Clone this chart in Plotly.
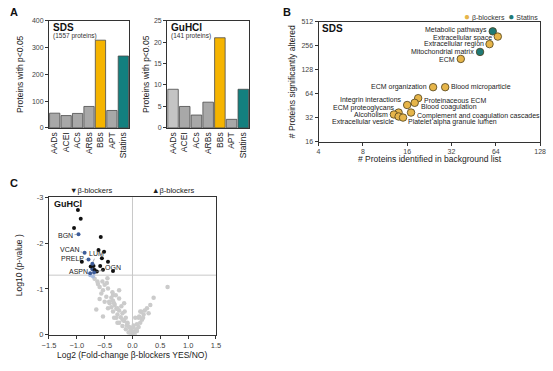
import plotly.graph_objects as go
import math

W, H = 553, 371
FONT = "Liberation Sans, Arial, sans-serif"

def fx(p):
    return p / W

def fy(p):
    return 1 - p / H

# ---------------- DATA ----------------
drug_classes = ["AADs", "ACEI", "ACs", "ARBs", "BBs", "APT", "Statins"]
sds_counts = [55, 46, 54, 80, 327, 65, 268]
guhcl_counts = [9, 5, 3, 6, 21, 2, 9]

terms = ["Metabolic pathways", "Extracellular space", "Extracellular region",
         "Mitochondrial matrix", "ECM", "ECM organization", "Blood microparticle",
         "Proteinaceous ECM", "Blood coagulation", "Integrin interactions",
         "ECM proteoglycans", "Alcoholism", "Complement and coagulation cascades",
         "Extracellular vesicle", "Platelet alpha granule lumen"]
term_background = [61, 66, 58, 50, 37, 24, 29, 19, 18, 16, 14, 13, 17, 14, 15]
term_significant = [386, 332, 267, 213, 174, 77, 77, 56, 49, 46, 37, 35, 37, 33, 32]
term_group = ["Statins", "β-blockers", "β-blockers", "Statins", "β-blockers",
              "β-blockers", "β-blockers", "β-blockers", "β-blockers", "β-blockers",
              "β-blockers", "β-blockers", "β-blockers", "β-blockers", "β-blockers"]

# Volcano plot (GuHCl)
sig_black_fc = [-0.98, -0.93, -1.05, -0.57, -0.61, -0.51, -0.55, -0.91, -0.44,
                -0.70, -0.58, -0.68, -0.53, -0.35, -0.75, -0.64]
sig_black_logp = [-2.72, -2.53, -2.33, -2.13, -1.85, -1.81, -1.67, -1.59, -1.59,
                  -1.50, -1.50, -1.41, -1.42, -1.39, -1.49, -1.38]
ecm_genes = ["BGN", "VCAN", "PRELP", "LUM", "ASPN", "OGN"]
ecm_fc = [-0.97, -0.86, -0.79, -0.72, -0.76, -0.69]
ecm_logp = [-2.19, -1.79, -1.64, -1.55, -1.34, -1.36]
ecm_extra_fc = [-0.72, -0.71, -0.76]
ecm_extra_logp = [-1.43, -1.27, -1.30]
ns_fc = [-0.68, -0.63, -0.54, -0.50, -0.59, -0.44, -0.53, -0.56, -0.47, -0.38,
         -0.24, -0.35, -0.50, -0.41, -0.32, -0.38, -0.29, -0.24, -0.65, -0.35,
         -0.18, -0.27, -0.53, -0.21, -0.12, -0.15, -0.24, -0.09, -0.18, -0.06,
         -0.12, -0.03, -0.07, 0.00, 0.03, 0.07, 0.11, 0.08, 0.14, 0.17,
         0.11, 0.20, 0.16, 0.29, 0.26, 0.32, 0.38, 0.63, -0.03, 0.04,
         -0.29, -0.35, -0.44, -0.45, -0.36, -0.30, -0.15, 0.05, -0.10, -0.04,
         0.02, -0.20, -0.42, 0.12, 0.22, -0.62, -0.33, -0.27, -0.33, -0.27,
         0.14, 0.19, -0.09, -0.18, -0.14, 0.01, 0.08, -0.24, -0.59, -0.46]
ns_logp = [-1.22, -1.16, -1.16, -1.09, -1.04, -1.01, -0.97, -0.90, -0.83, -0.81,
           -0.79, -0.74, -0.72, -0.69, -0.65, -0.60, -0.57, -0.53, -0.55, -0.51,
           -0.47, -0.44, -0.40, -0.38, -0.37, -0.30, -0.26, -0.24, -0.19, -0.17,
           -0.12, -0.10, -0.05, -0.03, -0.07, -0.12, -0.17, -0.23, -0.26, -0.33,
           -0.37, -0.44, -0.50, -0.47, -0.58, -0.65, -0.81, -1.04, 0.00, -0.01,
           -0.37, -0.87, -0.58, -1.23, -0.93, -0.86, -0.69, -0.37, -0.21, -0.15,
           -0.20, -0.62, -0.72, -0.40, -0.53, -1.11, -0.69, -0.58, -0.37, -0.26,
           -0.51, -0.37, -0.26, -0.33, -0.51, -0.16, -0.08, -0.97, -0.78, -1.13]
p_threshold = -1.3

# ---------------- STYLES ----------------
GRAY = "#a8a8a8"
BB_BAR = "#f5b400"
ST_BAR = "#13807f"
BB_DOT = "#e6b54a"
ST_DOT = "#1f7a76"
bar_colors_sds = [GRAY, GRAY, GRAY, GRAY, BB_BAR, GRAY, ST_BAR]
bar_colors_gu = ["#c4c4c4", GRAY, GRAY, GRAY, BB_BAR, GRAY, ST_BAR]

fig = go.Figure()

fig.add_trace(go.Bar(x=drug_classes, y=sds_counts, marker=dict(color=bar_colors_sds, line=dict(color="#4a4a4a", width=0.8)),
                     xaxis="x", yaxis="y", showlegend=False))
fig.add_trace(go.Bar(x=drug_classes, y=guhcl_counts, marker=dict(color=bar_colors_gu, line=dict(color="#4a4a4a", width=0.8)),
                     xaxis="x2", yaxis="y2", showlegend=False))

grp_color = {"β-blockers": BB_DOT, "Statins": ST_DOT}
fig.add_trace(go.Scatter(x=term_background, y=term_significant, mode="markers",
                         marker=dict(size=7.5, color=[grp_color[g] for g in term_group],
                                     line=dict(color="#4e401a", width=0.8)),
                         xaxis="x3", yaxis="y3", showlegend=False))

fig.add_trace(go.Scatter(x=ns_fc, y=ns_logp, mode="markers", marker=dict(size=4.5, color="#cbcbcb"),
                         xaxis="x4", yaxis="y4", showlegend=False))
fig.add_trace(go.Scatter(x=ecm_extra_fc, y=ecm_extra_logp, mode="markers",
                         marker=dict(size=4, color=["#3d5c99", "#a9bde0", "#a9bde0"]),
                         xaxis="x4", yaxis="y4", showlegend=False))
fig.add_trace(go.Scatter(x=sig_black_fc, y=sig_black_logp, mode="markers", marker=dict(size=4, color="#111111"),
                         xaxis="x4", yaxis="y4", showlegend=False))
fig.add_trace(go.Scatter(x=ecm_fc, y=ecm_logp, mode="markers", marker=dict(size=4, color="#3d5c99"),
                         xaxis="x4", yaxis="y4", showlegend=False))

# ---------------- LAYOUT ----------------
tickf = dict(family=FONT, size=7, color="#444")
common_line = dict(showline=True, linecolor="#333", linewidth=1, mirror=True, showgrid=False, zeroline=False)
catf = dict(family=FONT, size=8.5, color="#222")

layout = dict(
    width=W, height=H, margin=dict(l=0, r=0, t=0, b=0),
    paper_bgcolor="white", plot_bgcolor="white", bargap=0.1,
    font=dict(family=FONT, color="#222"),
    xaxis=dict(domain=[fx(43), fx(125)], anchor="y", range=[-0.5, 6.5], tickangle=-90,
               tickfont=catf, ticks="", **common_line),
    yaxis=dict(domain=[fy(127), fy(17)], anchor="x", range=[0, 400], dtick=100, ticks="outside", ticklen=3,
               tickcolor="#333", tickfont=tickf, **common_line),
    xaxis2=dict(domain=[fx(164), fx(248)], anchor="y2", range=[-0.5, 6.5], tickangle=-90,
                tickfont=catf, ticks="", **common_line),
    yaxis2=dict(domain=[fy(127), fy(17)], anchor="x2", range=[0, 25], dtick=5, ticks="outside", ticklen=3,
                tickcolor="#333", tickfont=tickf, **common_line),
    xaxis3=dict(domain=[fx(319), fx(546)], anchor="y3", type="log", range=[math.log10(4), math.log10(128)],
                tickvals=[4, 8, 16, 32, 64, 128], ticktext=["4", "8", "16", "32", "64", "128"],
                ticks="outside", ticklen=3, tickcolor="#333", tickfont=tickf, **common_line),
    yaxis3=dict(domain=[fy(141), fy(18)], anchor="x3", type="log", range=[math.log10(16), math.log10(512)],
                tickvals=[16, 32, 64, 128, 256, 512], ticktext=["16", "32", "64", "128", "256", "512"],
                ticks="outside", ticklen=3, tickcolor="#333", tickfont=tickf, **common_line),
    xaxis4=dict(domain=[fx(43), fx(214)], anchor="y4", range=[-1.5, 1.5], dtick=0.5, tickformat=".1f",
                ticks="outside", ticklen=3, tickcolor="#333", tickfont=dict(family=FONT, size=7.5, color="#444"),
                **common_line),
    yaxis4=dict(domain=[fy(339), fy(198)], anchor="x4", range=[0, -3], tickvals=[0, -1, -2, -3],
                ticktext=["0", "-1", "-2", "-3"],
                ticks="outside", ticklen=3, tickcolor="#333", tickfont=dict(family=FONT, size=7.5, color="#444"),
                **common_line),
)

shapes = [
    dict(type="line", xref="x4", yref="paper", x0=0, x1=0, y0=fy(339), y1=fy(198), line=dict(color="#c8c8c8", width=1), layer="below"),
    dict(type="line", xref="paper", yref="paper", x0=fx(43), x1=fx(214),
         y0=fy(339 + p_threshold * 47), y1=fy(339 + p_threshold * 47), line=dict(color="#c8c8c8", width=1), layer="below"),
]

ann = []
def paper_text(x, y, text, size, bold=False, xanchor="left", color="#111", angle=0):
    ann.append(dict(xref="paper", yref="paper", x=fx(x), y=fy(y), text=f"<b>{text}</b>" if bold else text,
                    showarrow=False, xanchor=xanchor, yanchor="middle", textangle=angle,
                    font=dict(family=FONT, size=size, color=color)))

paper_text(1, 8, "A", 11, bold=True)
paper_text(281, 8, "B", 11, bold=True)
paper_text(1, 183, "C", 11, bold=True)
paper_text(45, 24, "SDS", 10, bold=True)
paper_text(45, 33, "(1557 proteins)", 6.5, color="#333")
paper_text(166, 24, "GuHCl", 10, bold=True)
paper_text(166, 33, "(141 proteins)", 6.5, color="#333")
paper_text(321, 25, "SDS", 10, bold=True)
paper_text(46, 205, "GuHCl", 9, bold=True)
paper_text(62, 191, "▼β-blockers", 7.5, color="#222")
paper_text(146, 191, "▲β-blockers", 7.5, color="#222")
# axis titles
paper_text(14, 72, "Proteins with p<0.05", 8.5, xanchor="center", color="#222", angle=-90)
paper_text(143, 72, "Proteins with p<0.05", 8.5, xanchor="center", color="#222", angle=-90)
paper_text(292, 80, "# Proteins significantly altered", 8.5, xanchor="center", color="#222", angle=-90)
paper_text(433, 159, "# Proteins identified in background list", 8.5, xanchor="center", color="#222")
paper_text(13, 268, "Log10 (p-value )", 8.5, xanchor="center", color="#222", angle=-90)
paper_text(128, 360, "Log2 (Fold-change β-blockers YES/NO)", 8.5, xanchor="center", color="#222")
# legend for B
paper_text(546, 13, f"<span style='color:{BB_DOT};font-size:10px'>●</span> β-blockers  "
                    f"<span style='color:{ST_DOT};font-size:10px'>●</span> Statins",
           7, xanchor="right", color="#333")

# enrichment labels: (xanchor, xshift, yshift)
term_label_style = [("right", -4, 1), ("right", -4, -1), ("right", -4, 0), ("right", -4, 0), ("right", -4, -1),
                    ("right", -4, 0), ("left", 4, 0), ("left", 4, -2), ("left", 4, -4), ("right", -3, 5),
                    ("right", -2, 5), ("right", -4, 0), ("left", 4, -3), ("right", -3, -5), ("left", 3, -4)]
for t, bx, sy, (xa, xs, ys) in zip(terms, term_background, term_significant, term_label_style):
    ann.append(dict(xref="x3", yref="y3", x=math.log10(bx), y=math.log10(sy), text=t, showarrow=False,
                    xanchor=xa, yanchor="middle", xshift=xs, yshift=ys,
                    font=dict(family=FONT, size=7, color="#222")))

# volcano labels: (ax, ay) offsets of text from point
gene_label_style = [(-13, 1), (-15, -3), (-16, -1), (4, -10), (-12, -2), (19, -5)]
for g, x, y, (axo, ayo) in zip(ecm_genes, ecm_fc, ecm_logp, gene_label_style):
    ann.append(dict(xref="x4", yref="y4", x=x, y=y, text=g, showarrow=True, arrowhead=0, arrowwidth=0.6,
                    arrowcolor="#777", ax=axo, ay=ayo, standoff=2,
                    font=dict(family=FONT, size=7, color="#222")))

layout["annotations"] = ann
layout["shapes"] = shapes
fig.update_layout(**layout)
fig.write_html("out.html", config={"displayModeBar": False},
               post_script="document.body.style.margin='0';document.body.style.padding='0';")
